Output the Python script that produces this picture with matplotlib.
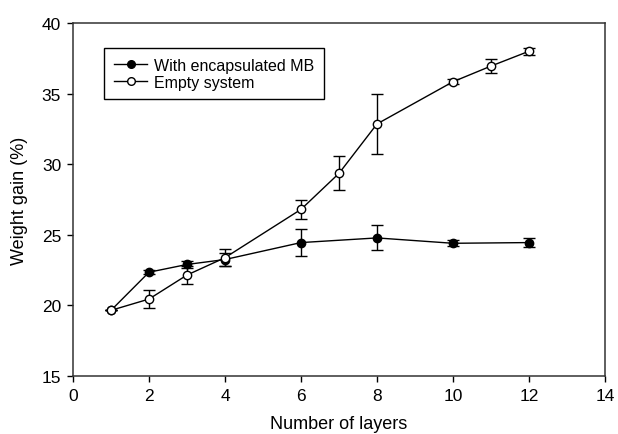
import numpy as np
import matplotlib.pyplot as plt
from matplotlib.lines import Line2D

plt.rcParams['font.family'] = ['Liberation Sans', 'DejaVu Sans']

# With encapsulated MB (filled circles)
x_mb = [1, 2, 3, 4, 6, 8, 10, 12]
y_mb = [19.65, 22.35, 22.9, 23.25, 24.45, 24.78, 24.4, 24.45]
e_mb = [0.0, 0.15, 0.22, 0.45, 0.95, 0.88, 0.2, 0.33]

# Empty system (open circles)
x_empty = [1, 2, 3, 4, 6, 7, 8, 10, 11, 12]
y_empty = [19.65, 20.45, 22.15, 23.38, 26.8, 29.35, 32.85, 35.84, 36.95, 38.0]
e_empty = [0.0, 0.62, 0.63, 0.58, 0.7, 1.2, 2.1, 0.18, 0.47, 0.25]

fig = plt.figure(figsize=(6.18, 4.35), dpi=100)
ax = fig.add_axes([0.1181, 0.1333, 0.8608, 0.8115])

ax.errorbar(x_mb, y_mb, yerr=e_mb, color='black', lw=1, marker='o', ms=6,
            mfc='black', mec='black', capsize=4.3, capthick=1, elinewidth=1,
            zorder=2)
ax.errorbar(x_empty, y_empty, yerr=e_empty, color='black', lw=1, marker='o', ms=6,
            mfc='white', mec='black', mew=1, capsize=4.3, capthick=1, elinewidth=1,
            zorder=3)

ax.set_xlim(0, 14)
ax.set_ylim(15, 40)
ax.set_xticks(np.arange(0, 15, 2))
ax.set_yticks(np.arange(15, 41, 5))
ax.tick_params(axis='both', direction='out', length=4.5, width=1, labelsize=12.5,
               colors='black', pad=4)
ax.tick_params(top=False, right=False)
for s in ax.spines.values():
    s.set_color('#333333')
    s.set_linewidth(1.1)

ax.set_xlabel('Number of layers', fontsize=13, labelpad=9)
ax.set_ylabel('Weight gain (%)', fontsize=13, labelpad=10)

handles = [Line2D([], [], color='black', lw=1, marker='o', ms=5.5, mfc='black', mec='black'),
           Line2D([], [], color='black', lw=1, marker='o', ms=5.5, mfc='white', mec='black')]
labels = ['With encapsulated MB', 'Empty system']
leg = ax.legend(handles, labels, loc='upper left', bbox_to_anchor=(0.0588, 0.929),
                borderaxespad=0, fontsize=11.5, frameon=True, fancybox=False,
                handlelength=2.1, handletextpad=0.4, borderpad=0.6,
                labelspacing=0.12, framealpha=1)
leg.get_frame().set_edgecolor('black')
leg.get_frame().set_linewidth(1)

fig.savefig('out.png', dpi=100)
